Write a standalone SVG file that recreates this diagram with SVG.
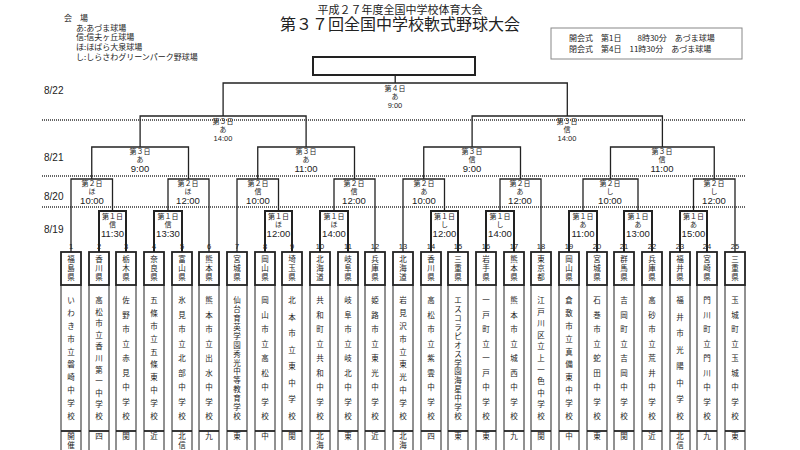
<svg xmlns="http://www.w3.org/2000/svg" width="800" height="450" viewBox="0 0 800 450">
<style>
text{font-family:"Noto Sans CJK JP","Liberation Sans",sans-serif;fill:#222}
.t1{font-size:11px;text-anchor:middle}
.t2{font-size:16px;text-anchor:middle}
.s8{font-size:8px}
.dt{font-size:10px;font-family:"Liberation Sans",sans-serif}
.lb{font-size:7px;text-anchor:middle}
.tm{font-size:9.5px;text-anchor:middle;font-family:"Liberation Sans",sans-serif}
.tms{font-size:7.5px;text-anchor:middle;font-family:"Liberation Sans",sans-serif}
.num{font-size:7.5px;text-anchor:middle;font-family:"Liberation Sans",sans-serif}
.v{font-size:7.5px;text-anchor:middle}
.br{fill:none;stroke:#222;stroke-width:1.3}
.bk{fill:none;stroke:#222;stroke-width:2}
.dot{stroke:#333;stroke-width:1.3;stroke-dasharray:1 1}
.col{fill:none;stroke:#222;stroke-width:1}
.pb{fill:#fff;stroke:#222;stroke-width:1.8}
</style>
<rect width="800" height="450" fill="#fff"/>
<g id="header">
<text class="t1" x="400" y="14">平成２７年度全国中学校体育大会</text>
<text class="t2" x="400" y="30">第３７回全国中学校軟式野球大会</text>
<text class="s8" x="64" y="21">会　場</text>
<text class="s8" x="76" y="31">あ:あづま球場</text>
<text class="s8" x="76" y="40">信:信夫ヶ丘球場</text>
<text class="s8" x="76" y="50">ほ:ほばら大泉球場</text>
<text class="s8" x="76" y="60">し:しらさわグリーンパーク野球場</text>
<rect x="551" y="28" width="191" height="31" fill="none" stroke="#888" stroke-width="1"/>
<text class="s8" x="569" y="41">開会式　第1日　　8時30分　あづま球場</text>
<text class="s8" x="569" y="52">閉会式　第4日　11時30分　あづま球場</text>
<rect x="313" y="57" width="162" height="18" class="bk"/>
</g>
<g id="dates">
<text class="dt" x="44" y="94">8/22</text>
<text class="dt" x="44" y="161">8/21</text>
<text class="dt" x="44" y="200">8/20</text>
<text class="dt" x="44" y="233">8/19</text>
<line class="dot" x1="42" y1="120" x2="745" y2="120"/>
<line class="dot" x1="42" y1="176" x2="745" y2="176"/>
<line class="dot" x1="42" y1="207" x2="745" y2="207"/>
</g>
<g id="connectors">
<path class="bk" d="M99 252V211H126V252M154 252V211H182V252M265 252V211H292V252M320 252V211H348V252M431 252V211H458V252M486 252V211H514V252M569 252V211H597V252M624 252V211H652V252M680 252V211H707V252"/>
<path class="br" d="M71 252V179H112.5V211M168 211V179H209V252M237 252V179H278.5V211M334 211V179H375V252M403 252V179H444.5V211M500 211V179H541V252M583 211V179H638V211M693.5 211V179H735V252"/>
<path class="br" d="M91.75 179V147H188.5V179M257.75 179V147H354.5V179M423.75 179V147H520.5V179M610.5 179V147H714.25V179"/>
<path class="br" d="M140.1 147V116H306.1V147M472.1 147V116H662.4V147"/>
<path class="br" d="M223.1 116V83H567.3V116M395.2 83V75"/>
</g>
<g id="labels">
<g id="final"><text class="lb" x="395" y="91">第４日</text><text class="lb" x="395" y="99">あ</text><text class="tms" x="395" y="108">9:00</text></g>
<g id="sf1"><text class="lb" x="223" y="124">第３日</text><text class="lb" x="223" y="132">あ</text><text class="tms" x="223" y="141">14:00</text></g>
<g id="sf2"><text class="lb" x="567" y="124">第３日</text><text class="lb" x="567" y="132">信</text><text class="tms" x="567" y="141">14:00</text></g>
<g id="qf1"><text class="lb" x="140" y="154">第３日</text><text class="lb" x="140" y="162">あ</text><text class="tm" x="140" y="172">9:00</text></g>
<g id="qf2"><text class="lb" x="306" y="154">第３日</text><text class="lb" x="306" y="162">あ</text><text class="tm" x="306" y="172">11:00</text></g>
<g id="qf3"><text class="lb" x="472" y="154">第３日</text><text class="lb" x="472" y="162">信</text><text class="tm" x="472" y="172">9:00</text></g>
<g id="qf4"><text class="lb" x="662" y="154">第３日</text><text class="lb" x="662" y="162">信</text><text class="tm" x="662" y="172">11:00</text></g>
<g id="r2a"><text class="lb" x="92" y="186">第２日</text><text class="lb" x="92" y="194">ほ</text><text class="tm" x="92" y="204">10:00</text></g>
<g id="r2b"><text class="lb" x="188" y="186">第２日</text><text class="lb" x="188" y="194">ほ</text><text class="tm" x="188" y="204">12:00</text></g>
<g id="r2c"><text class="lb" x="258" y="186">第２日</text><text class="lb" x="258" y="194">信</text><text class="tm" x="258" y="204">10:00</text></g>
<g id="r2d"><text class="lb" x="354" y="186">第２日</text><text class="lb" x="354" y="194">信</text><text class="tm" x="354" y="204">12:00</text></g>
<g id="r2e"><text class="lb" x="424" y="186">第２日</text><text class="lb" x="424" y="194">あ</text><text class="tm" x="424" y="204">10:00</text></g>
<g id="r2f"><text class="lb" x="520" y="186">第２日</text><text class="lb" x="520" y="194">あ</text><text class="tm" x="520" y="204">12:00</text></g>
<g id="r2g"><text class="lb" x="610" y="186">第２日</text><text class="lb" x="610" y="194">し</text><text class="tm" x="610" y="204">10:00</text></g>
<g id="r2h"><text class="lb" x="714" y="186">第２日</text><text class="lb" x="714" y="194">し</text><text class="tm" x="714" y="204">12:00</text></g>
<g id="r1a"><text class="lb" x="112.5" y="219">第１日</text><text class="lb" x="112.5" y="227">信</text><text class="tm" x="112.5" y="237">11:30</text></g>
<g id="r1b"><text class="lb" x="168" y="219">第１日</text><text class="lb" x="168" y="227">信</text><text class="tm" x="168" y="237">13:30</text></g>
<g id="r1c"><text class="lb" x="278.5" y="219">第１日</text><text class="lb" x="278.5" y="227">ほ</text><text class="tm" x="278.5" y="237">12:00</text></g>
<g id="r1d"><text class="lb" x="334" y="219">第１日</text><text class="lb" x="334" y="227">ほ</text><text class="tm" x="334" y="237">14:00</text></g>
<g id="r1e"><text class="lb" x="444.5" y="219">第１日</text><text class="lb" x="444.5" y="227">し</text><text class="tm" x="444.5" y="237">12:00</text></g>
<g id="r1f"><text class="lb" x="500" y="219">第１日</text><text class="lb" x="500" y="227">し</text><text class="tm" x="500" y="237">14:00</text></g>
<g id="r1g"><text class="lb" x="583" y="219">第１日</text><text class="lb" x="583" y="227">あ</text><text class="tm" x="583" y="237">11:00</text></g>
<g id="r1h"><text class="lb" x="638" y="219">第１日</text><text class="lb" x="638" y="227">あ</text><text class="tm" x="638" y="237">13:00</text></g>
<g id="r1i"><text class="lb" x="693.5" y="219">第１日</text><text class="lb" x="693.5" y="227">あ</text><text class="tm" x="693.5" y="237">15:00</text></g>
</g>
<defs>
<g id="colbox">
<rect class="pb" x="-10" y="252" width="20" height="33"/>
<path class="col" d="M-10 285V450M10 285V450"/>
<line x1="-10" y1="431" x2="10" y2="431" stroke="#222" stroke-width="1.8"/>
</g>
</defs>
<g id="teams">
<g id="t1"><use href="#colbox" x="71"/><text class="num" x="71" y="249">1</text><text class="v" x="71 71 71" y="262 271 280">福島県</text><text class="v" x="71 71 71 71 71 71 71 71 71 71 71 71 71 71" y="303 315.9 328.8 341.7 354.6 367.4 380.3 393.2 406.1 419">いわき市立磐崎中学校</text><text class="v" x="71 71" y="439 448">開催</text></g>
<g id="t2"><use href="#colbox" x="99"/><text class="num" x="99" y="249">2</text><text class="v" x="99 99 99" y="262 271 280">香川県</text><text class="v" x="99 99 99 99 99 99 99 99 99 99 99 99 99 99" y="303 314.6 326.2 337.8 349.4 361 372.6 384.2 395.8 407.4 419">高松市立香川第一中学校</text><text class="v" x="99" y="439">四</text></g>
<g id="t3"><use href="#colbox" x="126"/><text class="num" x="126" y="249">3</text><text class="v" x="126 126 126" y="262 271 280">栃木県</text><text class="v" x="126 126 126 126 126 126 126 126 126 126 126 126 126 126" y="303 317.5 332 346.5 361 375.5 390 404.5 419">佐野市立赤見中学校</text><text class="v" x="126" y="439">関</text></g>
<g id="t4"><use href="#colbox" x="154"/><text class="num" x="154" y="249">4</text><text class="v" x="154 154 154" y="262 271 280">奈良県</text><text class="v" x="154 154 154 154 154 154 154 154 154 154 154 154 154 154" y="303 315.9 328.8 341.7 354.6 367.4 380.3 393.2 406.1 419">五條市立五條東中学校</text><text class="v" x="154" y="439">近</text></g>
<g id="t5"><use href="#colbox" x="182"/><text class="num" x="182" y="249">5</text><text class="v" x="182 182 182" y="262 271 280">富山県</text><text class="v" x="182 182 182 182 182 182 182 182 182 182 182 182 182 182" y="303 317.5 332 346.5 361 375.5 390 404.5 419">氷見市立北部中学校</text><text class="v" x="182 182" y="439 448">北信</text></g>
<g id="t6"><use href="#colbox" x="209"/><text class="num" x="209" y="249">6</text><text class="v" x="209 209 209" y="262 271 280">熊本県</text><text class="v" x="209 209 209 209 209 209 209 209 209 209 209 209 209 209" y="303 317.5 332 346.5 361 375.5 390 404.5 419">熊本市立出水中学校</text><text class="v" x="209" y="439">九</text></g>
<g id="t7"><use href="#colbox" x="237"/><text class="num" x="237" y="249">7</text><text class="v" x="237 237 237" y="262 271 280">宮城県</text><text class="v" x="237 237 237 237 237 237 237 237 237 237 237 237 237 237" y="303 311.9 320.8 329.8 338.7 347.6 356.5 365.5 374.4 383.3 392.2 401.2 410.1 419">仙台育英学園秀光中等教育学校</text><text class="v" x="237" y="439">東</text></g>
<g id="t8"><use href="#colbox" x="265"/><text class="num" x="265" y="249">8</text><text class="v" x="265 265 265" y="262 271 280">岡山県</text><text class="v" x="265 265 265 265 265 265 265 265 265 265 265 265 265 265" y="303 317.5 332 346.5 361 375.5 390 404.5 419">岡山市立高松中学校</text><text class="v" x="265" y="439">中</text></g>
<g id="t9"><use href="#colbox" x="292"/><text class="num" x="292" y="249">9</text><text class="v" x="292 292 292" y="262 271 280">埼玉県</text><text class="v" x="292 292 292 292 292 292 292 292 292 292 292 292 292 292" y="303 319.6 336.1 352.7 369.3 385.9 402.4 419">北本市立東中学校</text><text class="v" x="292" y="439">関</text></g>
<g id="t10"><use href="#colbox" x="320"/><text class="num" x="320" y="249">10</text><text class="v" x="320 320 320" y="262 271 280">北海道</text><text class="v" x="320 320 320 320 320 320 320 320 320 320 320 320 320 320" y="303 317.5 332 346.5 361 375.5 390 404.5 419">共和町立共和中学校</text><text class="v" x="320 320" y="439 448">北海</text></g>
<g id="t11"><use href="#colbox" x="348"/><text class="num" x="348" y="249">11</text><text class="v" x="348 348 348" y="262 271 280">岐阜県</text><text class="v" x="348 348 348 348 348 348 348 348 348 348 348 348 348 348" y="303 317.5 332 346.5 361 375.5 390 404.5 419">岐阜市立岐北中学校</text><text class="v" x="348" y="439">東</text></g>
<g id="t12"><use href="#colbox" x="375"/><text class="num" x="375" y="249">12</text><text class="v" x="375 375 375" y="262 271 280">兵庫県</text><text class="v" x="375 375 375 375 375 375 375 375 375 375 375 375 375 375" y="303 317.5 332 346.5 361 375.5 390 404.5 419">姫路市立東光中学校</text><text class="v" x="375" y="439">近</text></g>
<g id="t13"><use href="#colbox" x="403"/><text class="num" x="403" y="249">13</text><text class="v" x="403 403 403" y="262 271 280">北海道</text><text class="v" x="403 403 403 403 403 403 403 403 403 403 403 403 403 403" y="303 315.9 328.8 341.7 354.6 367.4 380.3 393.2 406.1 419">岩見沢市立東光中学校</text><text class="v" x="403 403" y="439 448">北海</text></g>
<g id="t14"><use href="#colbox" x="431"/><text class="num" x="431" y="249">14</text><text class="v" x="431 431 431" y="262 271 280">香川県</text><text class="v" x="431 431 431 431 431 431 431 431 431 431 431 431 431 431" y="303 317.5 332 346.5 361 375.5 390 404.5 419">高松市立紫雲中学校</text><text class="v" x="431" y="439">四</text></g>
<g id="t15"><use href="#colbox" x="458"/><text class="num" x="458" y="249">15</text><text class="v" x="458 458 458" y="262 271 280">三重県</text><text class="v" x="458 458 458 458 458 458 458 458 458 458 458 458 458 458" y="303 311.9 320.8 329.8 338.7 347.6 356.5 365.5 374.4 383.3 392.2 401.2 410.1 419">エスコラピオス学園海星中学校</text><text class="v" x="458" y="439">東</text></g>
<g id="t16"><use href="#colbox" x="486"/><text class="num" x="486" y="249">16</text><text class="v" x="486 486 486" y="262 271 280">岩手県</text><text class="v" x="486 486 486 486 486 486 486 486 486 486 486 486 486 486" y="303 317.5 332 346.5 361 375.5 390 404.5 419">一戸町立一戸中学校</text><text class="v" x="486" y="439">東</text></g>
<g id="t17"><use href="#colbox" x="514"/><text class="num" x="514" y="249">17</text><text class="v" x="514 514 514" y="262 271 280">熊本県</text><text class="v" x="514 514 514 514 514 514 514 514 514 514 514 514 514 514" y="303 317.5 332 346.5 361 375.5 390 404.5 419">熊本市立城西中学校</text><text class="v" x="514" y="439">九</text></g>
<g id="t18"><use href="#colbox" x="541"/><text class="num" x="541" y="249">18</text><text class="v" x="541 541 541" y="262 271 280">東京都</text><text class="v" x="541 541 541 541 541 541 541 541 541 541 541 541 541 541" y="303 314.6 326.2 337.8 349.4 361 372.6 384.2 395.8 407.4 419">江戸川区立上一色中学校</text><text class="v" x="541" y="439">関</text></g>
<g id="t19"><use href="#colbox" x="569"/><text class="num" x="569" y="249">19</text><text class="v" x="569 569 569" y="262 271 280">岡山県</text><text class="v" x="569 569 569 569 569 569 569 569 569 569 569 569 569 569" y="303 315.9 328.8 341.7 354.6 367.4 380.3 393.2 406.1 419">倉敷市立真備東中学校</text><text class="v" x="569" y="439">中</text></g>
<g id="t20"><use href="#colbox" x="597"/><text class="num" x="597" y="249">20</text><text class="v" x="597 597 597" y="262 271 280">宮城県</text><text class="v" x="597 597 597 597 597 597 597 597 597 597 597 597 597 597" y="303 317.5 332 346.5 361 375.5 390 404.5 419">石巻市立蛇田中学校</text><text class="v" x="597" y="439">東</text></g>
<g id="t21"><use href="#colbox" x="624"/><text class="num" x="624" y="249">21</text><text class="v" x="624 624 624" y="262 271 280">群馬県</text><text class="v" x="624 624 624 624 624 624 624 624 624 624 624 624 624 624" y="303 317.5 332 346.5 361 375.5 390 404.5 419">吉岡町立吉岡中学校</text><text class="v" x="624" y="439">関</text></g>
<g id="t22"><use href="#colbox" x="652"/><text class="num" x="652" y="249">22</text><text class="v" x="652 652 652" y="262 271 280">兵庫県</text><text class="v" x="652 652 652 652 652 652 652 652 652 652 652 652 652 652" y="303 317.5 332 346.5 361 375.5 390 404.5 419">高砂市立荒井中学校</text><text class="v" x="652" y="439">近</text></g>
<g id="t23"><use href="#colbox" x="680"/><text class="num" x="680" y="249">23</text><text class="v" x="680 680 680" y="262 271 280">福井県</text><text class="v" x="680 680 680 680 680 680 680 680 680 680 680 680 680 680" y="303 319.6 336.1 352.7 369.3 385.9 402.4 419">福井市光陽中学校</text><text class="v" x="680 680" y="439 448">北信</text></g>
<g id="t24"><use href="#colbox" x="707"/><text class="num" x="707" y="249">24</text><text class="v" x="707 707 707" y="262 271 280">宮崎県</text><text class="v" x="707 707 707 707 707 707 707 707 707 707 707 707 707 707" y="303 317.5 332 346.5 361 375.5 390 404.5 419">門川町立門川中学校</text><text class="v" x="707" y="439">九</text></g>
<g id="t25"><use href="#colbox" x="735"/><text class="num" x="735" y="249">25</text><text class="v" x="735 735 735" y="262 271 280">三重県</text><text class="v" x="735 735 735 735 735 735 735 735 735 735 735 735 735 735" y="303 317.5 332 346.5 361 375.5 390 404.5 419">玉城町立玉城中学校</text><text class="v" x="735" y="439">東</text></g>
</g>
</svg>
